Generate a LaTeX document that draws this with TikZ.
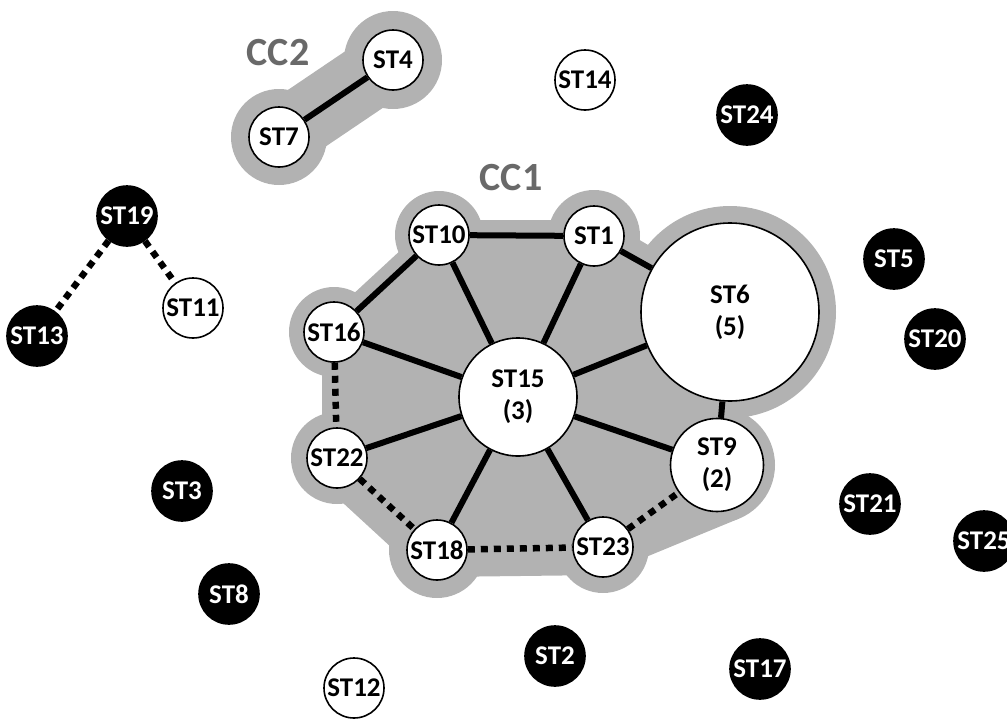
\documentclass[tikz,border=0pt]{standalone}
\usepackage{fontspec}
\setmainfont{Carlito}
\definecolor{halo}{RGB}{178,178,178}
\definecolor{cclab}{RGB}{105,105,105}
\tikzset{
  st/.style={circle, draw=black, line width=1.6pt, inner sep=0pt, minimum size=60pt,
    font=\fontsize{27}{32}\selectfont\bfseries, align=center},
  wst/.style={st, fill=white, text=black},
  bst/.style={st, fill=black, text=white},
  solidedge/.style={line width=6pt},
  dotedge/.style={line width=6.5pt, dash pattern=on 7pt off 6pt},
  cclabel/.style={text=cclab, font=\fontsize{40}{40}\selectfont\bfseries},
}
\begin{document}
\begin{tikzpicture}[x=1pt,y=-1pt]
\useasboundingbox (0,0) rectangle (1007,718);
% ---- CC2 halo
\draw[halo, line width=68pt] (279,137) -- (393,60);
\fill[halo] (279,137) circle (48pt);
\fill[halo] (393,60) circle (49pt);
% ---- CC1 halo
\fill[halo] (322,332) -- (324,321) -- (429,224) -- (439,220) -- (594,220) -- (604,219)
  -- (738,298) -- (738,519) -- (612,571) -- (603,575) -- (437,577) -- (417,571)
  -- (317,479) -- (322,458) -- cycle;
\fill[halo] (439,235) circle (44pt);
\fill[halo] (594,236) circle (46pt);
\fill[halo] (334,332) circle (45pt);
\fill[halo] (337,458) circle (46pt);
\fill[halo] (437,550) circle (48pt);
\fill[halo] (603,547) circle (46pt);
\fill[halo] (717,465) circle (58pt);
\fill[halo] (730,312) circle (106pt);
% ---- labels
\node[cclabel] (cc2) at (278,53) {CC2};
\node[cclabel] (cc1) at (511,178) {CC1};
% ---- nodes
\node[wst] (st4) at (393,60) {ST4};
\node[wst] (st7) at (279,137) {ST7};
\node[wst] (st14) at (585,80) {ST14};
\node[bst] (st24) at (747,115) {ST24};
\node[bst] (st19) at (127,216) {ST19};
\node[bst] (st13) at (37,336) {ST13};
\node[wst] (st11) at (193,308) {ST11};
\node[wst] (st10) at (439,235) {ST10};
\node[wst] (st1) at (594,236) {ST1};
\node[wst] (st16) at (334,332) {ST16};
\node[wst, minimum size=118pt] (st15) at (518,397) {ST15\\(3)};
\node[wst, minimum size=178pt] (st6) at (730,312) {ST6\\(5)};
\node[wst, minimum size=93pt] (st9) at (717,465) {ST9\\(2)};
\node[wst] (st22) at (337,458) {ST22};
\node[wst] (st18) at (437,550) {ST18};
\node[wst] (st23) at (603,547) {ST23};
\node[bst] (st3) at (182,491) {ST3};
\node[bst] (st8) at (229,594) {ST8};
\node[wst] (st12) at (354,688) {ST12};
\node[bst] (st2) at (555,656) {ST2};
\node[bst] (st17) at (760,669) {ST17};
\node[bst] (st5) at (894,259) {ST5};
\node[bst] (st20) at (935,339) {ST20};
\node[bst] (st21) at (870,504) {ST21};
\node[bst] (st25) at (984,541) {ST25};
% ---- solid edges
\draw[solidedge] (st4) -- (st7);
\draw[solidedge] (st10) -- (st1);
\draw[solidedge] (st10) -- (st16);
\draw[solidedge] (st10) -- (st15);
\draw[solidedge] (st1) -- (st15);
\draw[solidedge] (st1) -- (st6);
\draw[solidedge] (st16) -- (st15);
\draw[solidedge] (st15) -- (st6);
\draw[solidedge] (st15) -- (st22);
\draw[solidedge] (st15) -- (st18);
\draw[solidedge] (st15) -- (st23);
\draw[solidedge] (st15) -- (st9);
\draw[solidedge] (st6) -- (st9);
% ---- dotted edges
\draw[dotedge] (st16) -- (st22);
\draw[dotedge] (st22) -- (st18);
\draw[dotedge] (st18) -- (st23);
\draw[dotedge] (st23) -- (st9);
\draw[dotedge] (st19) -- (st13);
\draw[dotedge] (st19) -- (st11);
\end{tikzpicture}
\end{document}
